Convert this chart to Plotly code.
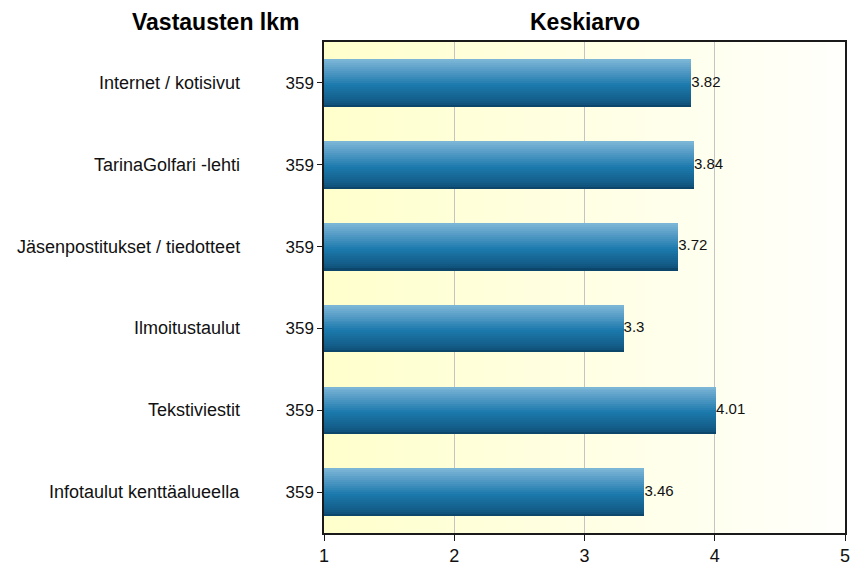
import plotly.graph_objects as go

# Survey data: information channels, number of responses, mean score
categories = [
    "Internet / kotisivut",
    "TarinaGolfari -lehti",
    "Jäsenpostitukset / tiedotteet",
    "Ilmoitustaulut",
    "Tekstiviestit",
    "Infotaulut kenttäalueella",
]
counts = [359, 359, 359, 359, 359, 359]
means = [3.82, 3.84, 3.72, 3.3, 4.01, 3.46]
x_ticks = [1, 2, 3, 4, 5]

FONT = "Liberation Sans, Arial, sans-serif"
positions = list(range(len(categories)))


def hex_to_rgb(h):
    h = h.lstrip("#")
    return tuple(int(h[i:i + 2], 16) for i in (0, 2, 4))


def lerp_color(stops, t):
    for (t0, c0), (t1, c1) in zip(stops, stops[1:]):
        if t0 <= t <= t1:
            f = 0 if t1 == t0 else (t - t0) / (t1 - t0)
            a, b = hex_to_rgb(c0), hex_to_rgb(c1)
            return "rgb(%d,%d,%d)" % tuple(round(a[i] + (b[i] - a[i]) * f) for i in range(3))
    return stops[-1][1]


fig = go.Figure()

# Bars: drawn as thin horizontal strips to give a vertical shading
bar_stops = [(0.0, "#80B8D8"), (0.3, "#4A95C2"), (0.55, "#1B79AB"),
             (0.85, "#145F8C"), (0.94, "#10547D"), (1.0, "#0A3F60")]
bar_h = 0.58
n_strips = 24
step = bar_h / n_strips
for k in range(n_strips):
    t = (k + 0.5) / n_strips
    fig.add_trace(go.Bar(
        x=means,
        y=positions,
        orientation="h",
        width=step * 1.15,
        offset=-bar_h / 2 + k * step,
        marker=dict(color=lerp_color(bar_stops, t), line=dict(width=0)),
        hoverinfo="skip",
        showlegend=False,
    ))

# Value labels at the bar ends
fig.add_trace(go.Scatter(
    x=means,
    y=positions,
    mode="text",
    text=[f"{v:g}" for v in means],
    textposition="middle right",
    textfont=dict(family=FONT, size=15, color="#111111"),
    hoverinfo="skip",
    showlegend=False,
))

# Background: pale yellow fading to white across the plot area
bg_stops = [(0.0, "#FFFFCC"), (1.0, "#FFFFFC")]
n_bg = 60
for i in range(n_bg):
    x0 = 1 + 4 * i / n_bg
    x1 = 1 + 4 * (i + 1) / n_bg
    fig.add_shape(type="rect", xref="x", yref="y", x0=x0, x1=x1 + 0.01,
                  y0=-0.5, y1=len(categories) - 0.5, layer="below",
                  line=dict(width=0),
                  fillcolor=lerp_color(bg_stops, (i + 0.5) / n_bg))

# Category names on the left
for p, name in zip(positions, categories):
    fig.add_annotation(x=-0.158, xref="paper", y=p, yref="y", text=name,
                       showarrow=False, xanchor="right", yanchor="middle",
                       font=dict(family=FONT, size=18, color="#111111"))

# Column headers
fig.add_annotation(x=(215 - 324) / 521, xref="paper", y=1.0, yref="paper",
                   yshift=20, text="<b>Vastausten lkm</b>", showarrow=False,
                   xanchor="center", yanchor="middle",
                   font=dict(family=FONT, size=23, color="#000000"))
fig.add_annotation(x=0.5, xref="paper", y=1.0, yref="paper",
                   yshift=20, text="<b>Keskiarvo</b>", showarrow=False,
                   xanchor="center", yanchor="middle",
                   font=dict(family=FONT, size=23, color="#000000"))

fig.update_layout(
    width=853,
    height=565,
    margin=dict(l=324, r=8, t=42, b=32),
    paper_bgcolor="white",
    plot_bgcolor="white",
    barmode="overlay",
    bargap=0,
    xaxis=dict(
        range=[1, 5],
        tickvals=x_ticks,
        ticktext=[str(v) for v in x_ticks],
        automargin=False,
        showgrid=True,
        gridcolor="#C4C4C4",
        gridwidth=1,
        zeroline=False,
        showline=True,
        linecolor="#1A1A1A",
        linewidth=1.5,
        mirror=True,
        ticks="outside",
        ticklen=6,
        tickcolor="#1A1A1A",
        tickfont=dict(family=FONT, size=18, color="#111111"),
        fixedrange=True,
    ),
    yaxis=dict(
        range=[len(categories) - 0.5, -0.5],
        tickvals=positions,
        ticktext=[str(c) for c in counts],
        automargin=False,
        showgrid=False,
        zeroline=False,
        showline=True,
        linecolor="#1A1A1A",
        linewidth=1.5,
        mirror=True,
        ticks="outside",
        ticklen=5,
        tickcolor="#1A1A1A",
        tickfont=dict(family=FONT, size=17, color="#111111"),
        fixedrange=True,
    ),
)

fig.write_html("out.html")
